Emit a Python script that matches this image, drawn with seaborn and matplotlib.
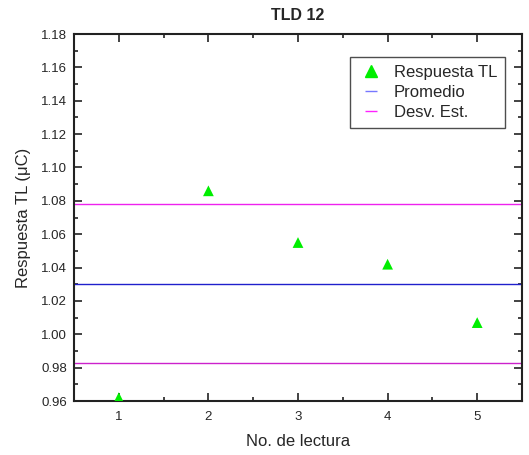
import numpy as np
import pandas as pd
import matplotlib
matplotlib.use("Agg")
import matplotlib.pyplot as plt
from matplotlib.ticker import MultipleLocator, FormatStrFormatter
from matplotlib.lines import Line2D
import seaborn as sns

lectura = [1, 2, 3, 4, 5]
respuesta = [0.962, 1.086, 1.055, 1.042, 1.007]
promedio = 1.030
desv_sup = 1.078
desv_inf = 0.983

sns.set_style("ticks")
plt.rcParams['font.family'] = ['Liberation Sans', 'DejaVu Sans']

fig = plt.figure(figsize=(5.29, 4.55), dpi=100)
ax = fig.add_axes([74/529, 1 - 401/455, (522-74)/529, (401-34)/455])

df = pd.DataFrame({"x": lectura, "y": respuesta})
sns.scatterplot(data=df, x="x", y="y", ax=ax, marker="^", color="#00ee00",
                s=60, edgecolor="none", zorder=3)

ax.axhline(promedio, color="#2020cc", lw=1, zorder=2)
ax.axhline(desv_sup, color="#ee22ee", lw=1, zorder=2)
ax.axhline(desv_inf, color="#cc22cc", lw=1, zorder=2)

ax.set_xlim(0.5, 5.5)
ax.set_ylim(0.96, 1.18)
ax.xaxis.set_major_locator(MultipleLocator(1))
ax.xaxis.set_minor_locator(MultipleLocator(0.5))
ax.yaxis.set_major_locator(MultipleLocator(0.02))
ax.yaxis.set_minor_locator(MultipleLocator(0.01))
ax.yaxis.set_major_formatter(FormatStrFormatter("%.2f"))
ax.tick_params(which="both", direction="in", top=True, right=True,
               labelsize=9.5, width=1.2, color="#222222")
ax.tick_params(which="major", length=6)
ax.tick_params(which="minor", length=3)
ax.tick_params(axis="x", which="major", pad=7)
ax.tick_params(axis="y", which="major", pad=5)
for s in ax.spines.values():
    s.set_linewidth(1.5)
    s.set_color("#222222")

ax.set_xlabel("No. de lectura", fontsize=12, labelpad=8)
ax.set_ylabel("Respuesta TL (\u03bcC)", fontsize=12, labelpad=7)
ax.set_title("TLD 12", fontsize=11.5, fontweight="bold", pad=10)

handles = [
    Line2D([], [], marker="^", color="#00ee00", linestyle="none", markersize=9),
    Line2D([], [], marker="_", color="#7777ff", linestyle="none", markersize=8,
           markeredgewidth=1),
    Line2D([], [], marker="_", color="#ff22ff", linestyle="none", markersize=8,
           markeredgewidth=1),
]
leg = ax.legend(handles, ["Respuesta TL", "Promedio", "Desv. Est."],
                loc="upper right", bbox_to_anchor=(0.962, 0.937), fontsize=12,
                frameon=True, fancybox=False, edgecolor="#222222",
                handlelength=1.6, handletextpad=0.6, borderpad=0.45,
                labelspacing=0.32, borderaxespad=0)
leg.get_frame().set_linewidth(1.0)

fig.savefig("out.png", dpi=100)
